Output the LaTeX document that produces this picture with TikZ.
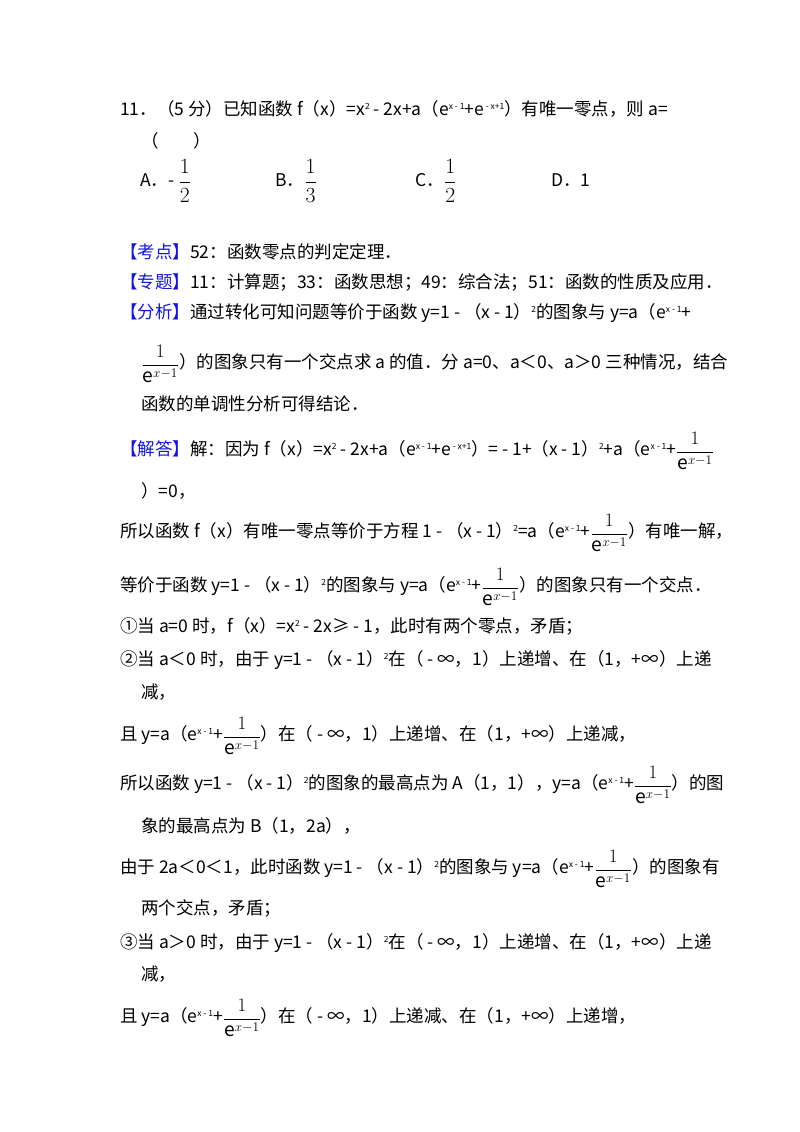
\documentclass[tikz,border=0pt]{standalone}
\usepackage{fontspec}
\usepackage{graphicx}
\setmainfont{Noto Sans CJK SC}
\newcommand{\su}[1]{\raisebox{0.6ex}{\fontsize{8.5}{8.5}\selectfont #1}}
\newcommand{\fe}{\raisebox{-0.2ex}{\scalebox{1.1}{$\displaystyle\frac{1}{\mathrm{e}^{x-1}}$}}}
\newcommand{\fr}[2]{\raisebox{-0.2ex}{\scalebox{1.25}{$\displaystyle\frac{#1}{#2}$}}}
\newcommand{\hd}[1]{\textcolor{hdblue}{【#1】}}
\definecolor{hdblue}{RGB}{20,20,230}
\begin{document}
\begin{tikzpicture}[x=1pt,y=1pt,
  t/.style={anchor=base west,inner sep=0pt,font=\fontsize{17.5}{20}\selectfont}]
\useasboundingbox[fill=white] (0,0) rectangle (800,-1132);
\node[t] (l1) at (120,-115) {11．（5 分）已知函数 f（x）=x\su{2} - 2x+a（e\su{x - 1}+e\su{ - x+1}）有唯一零点，则 a=};
\node[t] (l2) at (141,-147) {（\qquad ）};
\node[t] (oa) at (140,-186) {A．- \fr12};
\node[t] (ob) at (275,-186) {B．\fr13};
\node[t] (oc) at (415,-186) {C．\fr12};
\node[t] (od) at (551,-186) {D．1};
\node[t] (k) at (120,-258) {\hd{考点}52：函数零点的判定定理．};
\node[t] (z) at (120,-288) {\hd{专题}11：计算题；33：函数思想；49：综合法；51：函数的性质及应用．};
\node[t] (f1) at (120,-318) {\hd{分析}通过转化可知问题等价于函数 y=1 - （x - 1）\su{2}的图象与 y=a（e\su{x - 1}+};
\node[t] (f2) at (141,-368) {\fe）的图象只有一个交点求 a 的值．分 a=0、a＜0、a＞0 三种情况，结合};
\node[t] (f3) at (141,-410) {函数的单调性分析可得结论．};
\node[t] (j1) at (120,-455) {\hd{解答}解：因为 f（x）=x\su{2} - 2x+a（e\su{x - 1}+e\su{ - x+1}）= - 1+（x - 1）\su{2}+a（e\su{x - 1}+\fe};
\node[t] (j2) at (141,-497) {）=0，};
\node[t] (j3) at (120,-537) {所以函数 f（x）有唯一零点等价于方程 1 - （x - 1）\su{2}=a（e\su{x - 1}+\fe）有唯一解，};
\node[t] (j4) at (120,-591) {等价于函数 y=1 - （x - 1）\su{2}的图象与 y=a（e\su{x - 1}+\fe）的图象只有一个交点．};
\node[t] (j5) at (120,-632) {①当 a=0 时，f（x）=x\su{2} - 2x≥ - 1，此时有两个零点，矛盾；};
\node[t] (j6) at (120,-665) {②当 a＜0 时，由于 y=1 - （x - 1）\su{2}在（ - ∞，1）上递增、在（1，+∞）上递};
\node[t] (j7) at (141,-698) {减，};
\node[t] (j8) at (120,-740) {且 y=a（e\su{x - 1}+\fe）在（ - ∞，1）上递增、在（1，+∞）上递减，};
\node[t] (j9) at (120,-789) {所以函数 y=1 - （x - 1）\su{2}的图象的最高点为 A（1，1），y=a（e\su{x - 1}+\fe）的图};
\node[t] (j10) at (141,-832) {象的最高点为 B（1，2a），};
\node[t] (j11) at (120,-873) {由于 2a＜0＜1，此时函数 y=1 - （x - 1）\su{2}的图象与 y=a（e\su{x - 1}+\fe）的图象有};
\node[t] (j12) at (141,-914) {两个交点，矛盾；};
\node[t] (j13) at (120,-948) {③当 a＞0 时，由于 y=1 - （x - 1）\su{2}在（ - ∞，1）上递增、在（1，+∞）上递};
\node[t] (j14) at (141,-980) {减，};
\node[t] (j15) at (120,-1022) {且 y=a（e\su{x - 1}+\fe）在（ - ∞，1）上递减、在（1，+∞）上递增，};
\end{tikzpicture}
\end{document}
